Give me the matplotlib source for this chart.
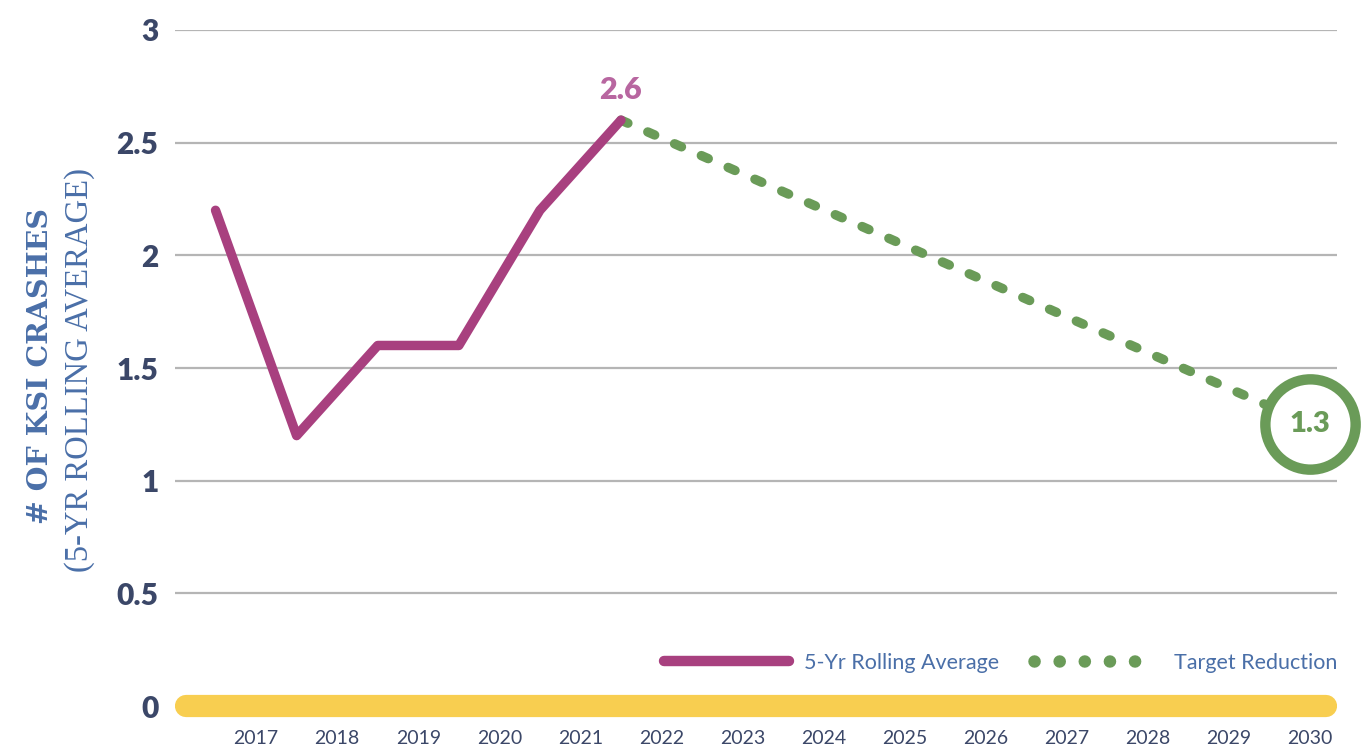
import numpy as np
import matplotlib.pyplot as plt
from matplotlib.lines import Line2D

# data
rolling_x = [2016.5, 2017.5, 2018.5, 2019.5, 2020.5, 2021.5]
rolling_avg = [2.2, 1.2, 1.6, 1.6, 2.2, 2.6]
target_x = [2021.5, 2030]
target_vals = [2.6, 1.25]
tick_years = list(range(2017, 2031))
y_ticks = [0, 0.5, 1, 1.5, 2, 2.5, 3]
y_tick_labels = ['0', '0.5', '1', '1.5', '2', '2.5', '3']

purple = '#A8407F'
pink = '#B866A0'
green = '#6A9B58'
yellow = '#F8CE50'
navy = '#3B4768'
blue = '#4A6FA8'

fig = plt.figure(figsize=(13.66, 7.48), dpi=100)
ax = fig.add_axes([0.1281, 0.0561, 0.8507, 0.9038])

ax.set_xlim(2016, 2030.33)
ax.set_ylim(0, 3)

# grid lines
for v in y_ticks[1:]:
    ax.axhline(v, color='#B5B5B5', lw=1.6, zorder=1)
# thick yellow baseline
ax.axhline(0, xmin=0.0095, xmax=0.9905, color=yellow, lw=16,
           solid_capstyle='round', clip_on=False, zorder=2)

# rolling average line
ax.plot(rolling_x, rolling_avg, color=purple, lw=6.8, solid_capstyle='round',
        solid_joinstyle='round', zorder=4)
# target reduction line
ax.plot(target_x, target_vals, color=green, lw=6.8, linestyle=(0, (0.8, 2.3)),
        dash_capstyle='round', zorder=3)

# end circle
ax.plot(target_x[-1], target_vals[-1], marker='o', ms=65, mfc='white',
        mec=green, mew=7.5, zorder=5, clip_on=False)
ax.text(target_x[-1], target_vals[-1], '1.3', color=green, fontsize=21,
        fontweight='heavy', family='Lato', ha='center', va='center', zorder=6)
ax.text(rolling_x[-1], rolling_avg[-1] + 0.07, '%.1f' % rolling_avg[-1], color=pink,
        fontsize=22, fontweight='heavy', family='Lato', ha='center', va='bottom', zorder=6)

# ticks
ax.set_xticks(tick_years)
ax.set_xticklabels([str(y) for y in tick_years], fontsize=14, color=navy, family='Lato')
ax.set_yticks(y_ticks)
ax.set_yticklabels(y_tick_labels, fontsize=21.5, color=navy, family='Lato', fontweight='heavy')
ax.tick_params(axis='both', length=0)
ax.tick_params(axis='y', pad=12)
ax.tick_params(axis='x', pad=17)
for s in ax.spines.values():
    s.set_visible(False)

# y axis title
fig.text(0.030, 0.511, '# OF KSI CRASHES', rotation=90, ha='center', va='center',
         fontsize=20.5, fontweight='bold', family='DejaVu Serif', color=blue)
fig.text(0.058, 0.505, '(5-YR ROLLING AVERAGE)', rotation=90, ha='center', va='center',
         fontsize=23.5, family='Liberation Serif', color=blue)

# legend
handles = [
    Line2D([], [], color=purple, lw=7.5, solid_capstyle='round'),
    Line2D([], [], color=green, lw=9, linestyle=(0, (0.01, 2.0)), dash_capstyle='round'),
]
leg = ax.legend(handles, ['5-Yr Rolling Average', 'Target Reduction'], loc='center right',
                bbox_to_anchor=(1.0, 0.064), ncol=2, frameon=False, handlelength=5.8,
                columnspacing=1.6, handletextpad=0.7, borderaxespad=0, borderpad=0,
                prop={'family': 'Lato', 'size': 15.5})
for t in leg.get_texts():
    t.set_color(blue)

fig.savefig('out.png', dpi=100)
